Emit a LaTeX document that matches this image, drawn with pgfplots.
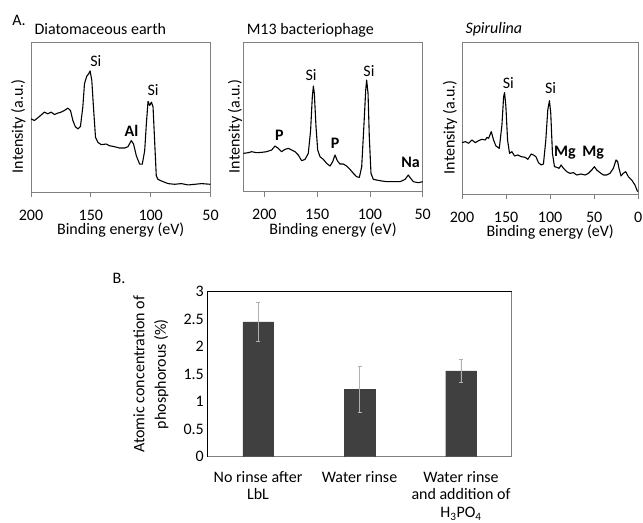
\documentclass[border=0pt]{standalone}
\usepackage{fontspec}
\setmainfont{Carlito}
\usepackage{pgfplots}
\pgfplotsset{compat=1.18}

\definecolor{framegray}{gray}{0.5}
\definecolor{bargray}{HTML}{404040}
\definecolor{errgray}{HTML}{B0B0B0}

\newcommand{\sz}{\fontsize{16bp}{19bp}\selectfont}

\pgfplotsset{
  xps/.style={
    anchor=south west,
    scale only axis,
    x dir=reverse,
    ytick=\empty,
    axis line style={framegray, line width=0.8bp},
    tick align=outside,
    xtick pos=left,
    major tick length=5bp,
    x tick style={framegray, line width=0.8bp},
    tick label style={font=\sz},
    /pgf/number format/assume math mode=true,
    xticklabel style={anchor=center, yshift=-18bp, inner sep=0pt},
    xlabel={Binding energy (eV)},
    xlabel style={at={(axis description cs:0.5,0)}, anchor=base, yshift=-43bp, inner sep=0pt, font=\sz},
    ylabel={Intensity (a.u.)},
    title style={at={(axis description cs:0,1)}, anchor=base west, yshift=2.5bp, font=\sz},
  },
  spec/.style={black, line width=1.1bp, line join=round, mark=none},
}

\begin{document}
\begin{tikzpicture}
\useasboundingbox (0,0) rectangle (643bp,523bp);
\node[font=\sz] at (19bp,503bp) {A.};
\node[font=\sz] at (119bp,245bp) {B.};

% Panel 1
\begin{axis}[xps, at={(31bp,331bp)}, width=179.5bp, height=149.3bp,
  xmin=50, xmax=200, ymin=0, ymax=445, xtick={50,100,150,200},
  title={Diatomaceous earth},
  ylabel style={at={(axis description cs:-0.071,0.44)}, anchor=center, font=\sz}]
\addplot[spec] coordinates {
(200,218)(197.2,213)(193,225)(188.8,238)(186,233)(183.2,238)(180.4,231)(177.7,235)(174.9,238)(172,243)(169.3,250)(167,243)(165,213)(163,195)(160.9,188)(158.7,195)(156.7,253)(155.3,323)(153.4,345)(151.7,353)(150.6,361)(149.2,333)(147.8,253)(146.1,163)(144.1,148)(141.3,141)(137.2,143)(134.4,138)(130.2,135)(126,131)(121.8,131)(119,135)(116.2,153)(114.3,143)(112,108)(109.2,83)(107,83)(105,123)(103.6,203)(102.2,270)(100.8,258)(99.4,268)(98,253)(96.7,153)(95.3,48)(93.9,38)(91.1,33)(85.5,25)(80,23)(74.3,25)(68.7,21)(63.1,23)(57.5,25)(50,23)
};
\node[font=\sz] at (axis cs:145.8,390) {Si};
\node[font=\sz] at (axis cs:98,305) {Si};
\node[font=\sz\bfseries] at (axis cs:116,183) {Al};
\end{axis}

% Panel 2
\begin{axis}[xps, at={(243.3bp,331.3bp)}, width=179.4bp, height=149bp,
  xmin=50, xmax=220, ymin=0, ymax=447, xtick={50,100,150,200},
  title={M13 bacteriophage},
  ylabel style={at={(axis description cs:-0.046,0.44)}, anchor=center, font=\sz}]
\addplot[spec] coordinates {
(220,115)(215.3,117)(212.1,120)(207.4,117)(202.6,118)(197.9,120)(193.1,125)(190,137)(186.8,130)(183.7,120)(180.5,127)(177.3,130)(174.2,125)(171,120)(167.9,110)(164.7,93)(161.5,97)(158.4,115)(156.2,185)(154.6,285)(153.6,317)(152.7,295)(151.1,195)(149.5,125)(147.3,105)(144.2,97)(141,85)(137.8,77)(135.3,90)(133.1,110)(130.9,93)(128.4,83)(125.2,83)(122,77)(118.9,67)(115.7,55)(112.6,45)(110,43)(107.8,75)(105.6,205)(104,305)(103.1,335)(101.8,295)(100.6,165)(99,55)(96.8,37)(90.4,33)(84.1,30)(77.8,30)(71.5,30)(66.7,37)(63.6,50)(61.4,40)(58.8,30)(54.1,27)(50,30)
};
\node[font=\sz\bfseries] at (axis cs:185.9,170) {P};
\node[font=\sz] at (axis cs:155.7,350) {Si};
\node[font=\sz\bfseries] at (axis cs:132.9,145) {P};
\node[font=\sz] at (axis cs:100.9,363) {Si};
\node[font=\sz\bfseries] at (axis cs:61.4,88) {Na};
\end{axis}

% Panel 3
\begin{axis}[xps, at={(462bp,329bp)}, width=176.3bp, height=151.7bp,
  xmin=0, xmax=200, ymin=-2, ymax=453, xtick={0,50,100,150,200},
  title={\itshape Spirulina},
  ylabel style={at={(axis description cs:-0.068,0.44)}, anchor=center, font=\sz}]
\addplot[spec] coordinates {
(200,152)(196.2,155)(192.5,150)(188.7,160)(184.9,152)(181.1,158)(177.4,162)(173.6,160)(171.7,168)(169.8,165)(166.8,185)(164.2,160)(161.5,142)(157.7,135)(154.7,205)(152.8,290)(151.7,302)(150.2,260)(148.3,160)(146.1,120)(143.4,125)(140.4,112)(136.6,115)(132.8,110)(128.3,108)(125.3,102)(121.5,118)(118.9,115)(116.2,110)(113.2,92)(110.2,85)(107.6,88)(104.9,160)(102.7,250)(100.8,278)(99.3,240)(97.4,120)(95.1,80)(92.5,78)(89.8,75)(87.6,85)(84.9,75)(81.1,65)(77.4,60)(73.6,62)(69.8,55)(64.9,58)(60.4,55)(56.6,60)(52.8,70)(49.8,80)(47.2,70)(43.4,62)(39.6,55)(35.9,55)(32.1,60)(28.3,75)(25.3,100)(23.4,95)(21.9,75)(19.6,52)(17,60)(14.3,65)(11.3,50)(7.5,40)(3.8,25)(0.8,5)
};
\node[font=\sz] at (axis cs:147.4,330) {Si};
\node[font=\sz] at (axis cs:99.5,315) {Si};
\node[font=\sz\bfseries] at (axis cs:83.3,122) {Mg};
\node[font=\sz\bfseries] at (axis cs:51.1,122) {Mg};
\end{axis}

% Panel B
\begin{axis}[at={(207.3bp,66.3bp)}, anchor=south west, scale only axis,
  width=304.4bp, height=165bp,
  ymin=0, ymax=3, xmin=-0.5, xmax=2.5,
  ytick={0,0.5,1,1.5,2,2.5,3},
  xtick={0,1,2},
  xticklabels={{No rinse after\\LbL},{Water rinse},{Water rinse\\and addition of\\H\textsubscript{3}PO\textsubscript{4}}},
  xticklabel style={align=center, font=\fontsize{16bp}{17.5bp}\selectfont, yshift=-7bp},
  yticklabel style={font=\sz},
  /pgf/number format/assume math mode=true,
  tick style={draw=none},
  axis line style={framegray, line width=0.8bp},
  ybar, bar width=30.5bp,
  ylabel={Atomic concentration of\\phosphorous (\%)},
  ylabel style={align=center, at={(axis description cs:-0.185,0.5)}, anchor=center, font=\fontsize{16bp}{21.5bp}\selectfont},
  after end axis/.code={\draw[black, line width=0.8bp] (rel axis cs:0,0) -- (rel axis cs:0,1) -- (rel axis cs:1,1);}
]
\addplot[fill=bargray, draw=bargray,
  error bars/.cd, y dir=both, y explicit,
  error bar style={errgray, line width=0.8bp},
  error mark options={errgray, rotate=90, mark size=2bp, line width=0.8bp}]
  coordinates {(0,2.45) +- (0,0.35) (1,1.23) +- (0,0.42) (2,1.56) +- (0,0.21)};
\end{axis}
\end{tikzpicture}
\end{document}
